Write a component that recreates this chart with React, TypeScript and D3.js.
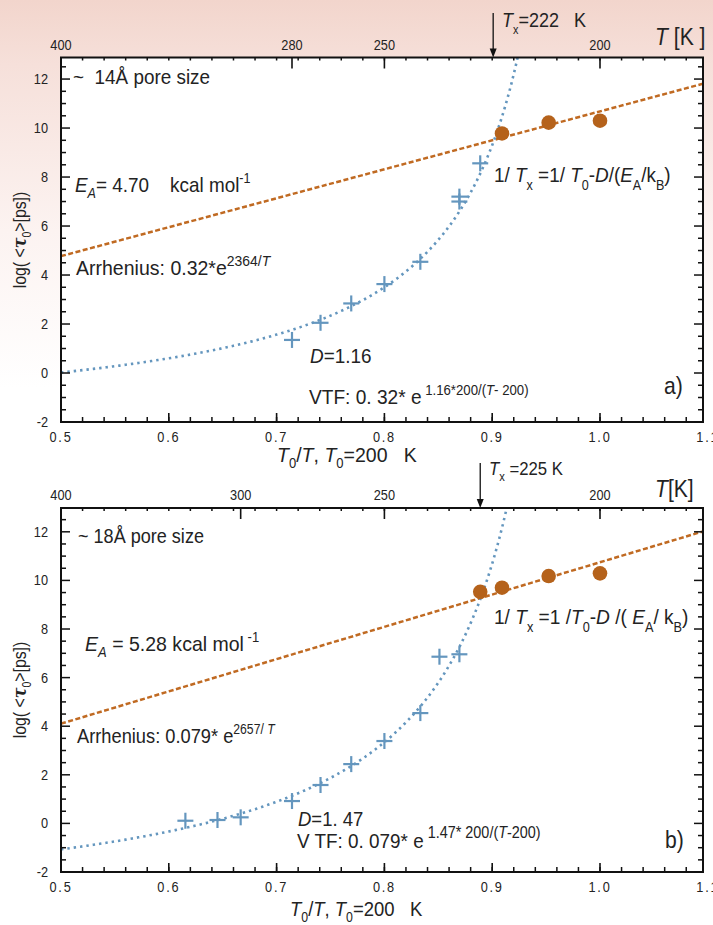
import React from 'react';
import * as d3 from 'd3';

const W = 713;
const H = 925;
const FONT = '"Liberation Sans", Arial, sans-serif';
const TEXT = '#232323';
const BLUE = '#6496be';
const ORANGE = '#c06a22';
const ORANGE_DOT = '#b5621b';

const T0 = 200;
const xTickValues = [0.5, 0.6, 0.7, 0.8, 0.9, 1.0, 1.1];
const xTickLabels = ['0.5', '0.6', '0.7', '0.8', '0.9', '1.0', '1.1'];
const yTickValues = [-2, 0, 2, 4, 6, 8, 10, 12];

// 14 Å pores
const topTempsA = [400, 280, 250, 200];
const vtfTempsA = [280, 270, 260, 250, 240, 230, 230, 225];
const vtfLogTauA = [1.35, 2.05, 2.84, 3.63, 4.54, 7.2, 7.0, 8.56];
const arrTempsA = [220, 210, 200];
const arrLogTauA = [9.78, 10.22, 10.3];
const fitA = { tau0: 0.32, ea: 2364, D: 1.16 };
const txA = 222;

// 18 Å pores
const topTempsB = [400, 300, 250, 200];
const vtfTempsB = [325, 310, 300, 280, 270, 260, 250, 240, 235, 230];
const vtfLogTauB = [0.11, 0.14, 0.25, 0.92, 1.58, 2.44, 3.39, 4.54, 6.86, 6.96];
const arrTempsB = [225, 220, 210, 200];
const arrLogTauB = [9.53, 9.7, 10.18, 10.29];
const fitB = { tau0: 0.079, ea: 2657, D: 1.47 };
const txB = 225;

const X_LEFT = 61;
const X_FRAME_RIGHT = 703;

type TProps = {
  x: number;
  y: number;
  size: number;
  sx?: number;
  anchor?: 'start' | 'middle' | 'end';
  rotate?: number;
  spacing?: number;
  children?: React.ReactNode;
};

// Condensed text: regular face squeezed horizontally, spaces kept as typed
function CText({ x, y, size, sx = 0.88, anchor = 'start', rotate = 0, spacing, children }: TProps) {
  return (
    <text
      transform={`translate(${x},${y}) rotate(${rotate}) scale(${sx},1)`}
      fontSize={size}
      textAnchor={anchor}
      letterSpacing={spacing}
      fill={TEXT}
      style={{ whiteSpace: 'pre' }}
    >
      {children}
    </text>
  );
}

type PanelProps = {
  id: string;
  top: number;
  bottom: number;
  yTop: number;
  topTemps: number[];
  vtfT: number[];
  vtfY: number[];
  arrT: number[];
  arrY: number[];
  fit: { tau0: number; ea: number; D: number };
  tx: number;
  txArrowTop: number;
  children?: React.ReactNode;
};

function Panel({ id, top, bottom, yTop, topTemps, vtfT, vtfY, arrT, arrY, fit, tx, txArrowTop, children }: PanelProps) {
  const x = d3.scaleLinear().domain([0.5, 1.1]).range([X_LEFT, 707.8]);
  const y = d3.scaleLinear().domain([-2, yTop]).range([bottom, top]);
  const xMax = x.invert(X_FRAME_RIGHT);

  const arrhenius = (u: number) => Math.log(fit.tau0) + (fit.ea / T0) * u;
  const vtf = (u: number) => Math.log(fit.tau0) + (fit.D * u) / (1 - u);

  const arrLine = d3.line<number>().x((u) => x(u)).y((u) => y(arrhenius(u)));
  const vtfLine = d3.line<number>().x((u) => x(u)).y((u) => y(vtf(u)));
  const vtfU = d3.range(0.5, 0.975, 0.002);

  const minorX = d3.range(0.5, xMax, 0.02);
  const minorY = d3.range(-2, yTop, 0.5);
  const clipId = `clip-${id}`;
  const txX = x(T0 / tx);

  return (
    <g>
      <defs>
        <clipPath id={clipId}>
          <rect x={X_LEFT} y={top} width={X_FRAME_RIGHT - X_LEFT} height={bottom - top} />
        </clipPath>
      </defs>
      <rect x={X_LEFT} y={top} width={X_FRAME_RIGHT - X_LEFT} height={bottom - top} fill="#fff" />

      {/* fitted Arrhenius and VTF curves */}
      <g clipPath={`url(#${clipId})`}>
        <path d={arrLine([0.5, xMax]) || ''} fill="none" stroke={ORANGE} strokeWidth={2.5} strokeDasharray="5 2.5" />
        <path d={vtfLine(vtfU) || ''} fill="none" stroke={BLUE} strokeWidth={2.6} strokeDasharray="2.4 4" />
      </g>

      {/* measured relaxation times */}
      {arrT.map((t, i) => (
        <circle key={`c${i}`} cx={x(T0 / t)} cy={y(arrY[i])} r={7.3} fill={ORANGE_DOT} />
      ))}
      {vtfT.map((t, i) => {
        const cx = x(T0 / t);
        const cy = y(vtfY[i]);
        return (
          <g key={`p${i}`} stroke={BLUE} strokeWidth={2.2}>
            <line x1={cx - 8} x2={cx + 8} y1={cy} y2={cy} />
            <line x1={cx} x2={cx} y1={cy - 8} y2={cy + 8} />
          </g>
        );
      })}

      {/* frame */}
      <rect x={X_LEFT} y={top} width={X_FRAME_RIGHT - X_LEFT} height={bottom - top} fill="none" stroke="#111" strokeWidth={2} />

      {/* bottom axis: T0/T */}
      {minorX.map((u, i) => (
        <line key={`bx${i}`} x1={x(u)} x2={x(u)} y1={bottom} y2={bottom - 5} stroke="#111" strokeWidth={1.5} />
      ))}
      {xTickValues.filter((u) => u <= xMax).map((u, i) => (
        <line key={`bM${i}`} x1={x(u)} x2={x(u)} y1={bottom} y2={bottom - 9} stroke="#111" strokeWidth={1.6} />
      ))}
      {xTickValues.map((u, i) => (
        <CText key={`bl${i}`} x={x(u)} y={bottom + 20} size={14.5} anchor="middle" spacing={2}>
          {xTickLabels[i]}
        </CText>
      ))}

      {/* top axis: temperature */}
      {minorX.map((u, i) => (
        <line key={`tx${i}`} x1={x(u)} x2={x(u)} y1={top} y2={top + 3} stroke="#111" strokeWidth={1.5} />
      ))}
      {topTemps.map((t, i) => (
        <g key={`tt${i}`}>
          <line x1={x(T0 / t)} x2={x(T0 / t)} y1={top} y2={top + 11} stroke="#111" strokeWidth={1.6} />
          <CText x={x(T0 / t)} y={top - 8} size={14.5} anchor="middle">
            {t}
          </CText>
        </g>
      ))}

      {/* left / right axes */}
      {minorY.map((v, i) => {
        const major = Math.abs(v % 2) < 1e-9;
        const len = major ? 9 : 5;
        return (
          <g key={`y${i}`} stroke="#111" strokeWidth={1.5}>
            <line x1={X_LEFT} x2={X_LEFT + len} y1={y(v)} y2={y(v)} />
            <line x1={X_FRAME_RIGHT} x2={X_FRAME_RIGHT - len} y1={y(v)} y2={y(v)} />
          </g>
        );
      })}
      {yTickValues.map((v, i) => (
        <CText key={`yl${i}`} x={48} y={y(v) + 5} size={14.5} anchor="end">
          {v}
        </CText>
      ))}

      {/* crossover temperature marker */}
      <line x1={txX} x2={txX} y1={txArrowTop} y2={top - 7} stroke="#111" strokeWidth={1.3} />
      <path d={`M${txX - 3.5},${top - 9} L${txX + 3.5},${top - 9} L${txX},${top} Z`} fill="#111" />

      {children}
    </g>
  );
}

function YTitle({ cy }: { cy: number }) {
  return (
    <CText x={26} y={cy} size={18} anchor="middle" rotate={-90}>
      log( &lt;
      <tspan fontWeight="bold" fontStyle="italic" fontFamily="DejaVu Serif, serif">τ</tspan>
      <tspan dy={5} fontSize={12}>0</tspan>
      <tspan dy={-5}>&gt;[ps])</tspan>
    </CText>
  );
}

function XTitle({ x, y, sx }: { x: number; y: number; sx: number }) {
  return (
    <CText x={x} y={y} size={21} sx={sx}>
      <tspan fontStyle="italic">T</tspan>
      <tspan dy={6} fontSize={14}>0</tspan>
      <tspan dy={-6}>/</tspan>
      <tspan fontStyle="italic">T</tspan>
      <tspan>, </tspan>
      <tspan fontStyle="italic">T</tspan>
      <tspan dy={6} fontSize={14}>0</tspan>
      <tspan dy={-6}>=200   K</tspan>
    </CText>
  );
}

export default function App() {
  return (
    <svg width={W} height={H} style={{ position: 'absolute', left: 0, top: 0, fontFamily: FONT }}>
      <defs>
        <linearGradient id="bg" x1="0" y1="0" x2="0" y2="1">
          <stop offset="0" stopColor="#f2d5cc" />
          <stop offset="0.07" stopColor="#f6e0da" />
          <stop offset="0.25" stopColor="#fcf3f1" />
          <stop offset="0.42" stopColor="#ffffff" />
        </linearGradient>
      </defs>
      <rect width={W} height={H} fill="url(#bg)" />

      <Panel
        id="a"
        top={57.5}
        bottom={422}
        yTop={12.88}
        topTemps={topTempsA}
        vtfT={vtfTempsA}
        vtfY={vtfLogTauA}
        arrT={arrTempsA}
        arrY={arrLogTauA}
        fit={fitA}
        tx={txA}
        txArrowTop={13}
      >
        <CText x={73} y={84} size={21} sx={0.9}>~  14Å pore size</CText>
        <CText x={75} y={191.5} size={21} sx={0.9}>
          <tspan fontStyle="italic">E</tspan>
          <tspan dy={6} fontSize={14} fontStyle="italic">A</tspan>
          <tspan dy={-6}>= 4.70    kcal mol</tspan>
          <tspan dy={-9} fontSize={14}>-1</tspan>
        </CText>
        <CText x={76} y={275} size={21} sx={0.93}>
          Arrhenius: 0.32*e
          <tspan dy={-9} fontSize={15}>2364/</tspan>
          <tspan fontSize={15} fontStyle="italic">T</tspan>
        </CText>
        <CText x={494} y={181.5} size={21} sx={0.9}>
          1/ <tspan fontStyle="italic">T</tspan>
          <tspan dy={8} fontSize={14}>x</tspan>
          <tspan dy={-8}> =1/ </tspan>
          <tspan fontStyle="italic">T</tspan>
          <tspan dy={8} fontSize={14}>0</tspan>
          <tspan dy={-8}>-</tspan>
          <tspan fontStyle="italic">D</tspan>
          <tspan>/(</tspan>
          <tspan fontStyle="italic">E</tspan>
          <tspan dy={8} fontSize={14}>A</tspan>
          <tspan dy={-8}>/k</tspan>
          <tspan dy={8} fontSize={14}>B</tspan>
          <tspan dy={-8}>)</tspan>
        </CText>
        <CText x={310} y={363} size={21} sx={0.9}>
          <tspan fontStyle="italic">D</tspan>=1.16
        </CText>
        <CText x={309} y={404} size={21} sx={0.91}>
          VTF: 0. 32* e
          <tspan dy={-9} fontSize={14.5}> 1.16*200/(</tspan>
          <tspan fontSize={14.5} fontStyle="italic">T</tspan>
          <tspan fontSize={14.5}>- 200)</tspan>
        </CText>
        <CText x={664} y={394} size={24}>a)</CText>
        <CText x={502} y={27} size={20} sx={0.9}>
          <tspan fontStyle="italic">T</tspan>
          <tspan dy={7} fontSize={12}>x</tspan>
          <tspan dy={-7}>=222   K</tspan>
        </CText>
        <CText x={655} y={45} size={24}>
          <tspan fontStyle="italic">T</tspan> [K ]
        </CText>
      </Panel>

      <Panel
        id="b"
        top={508}
        bottom={872}
        yTop={12.98}
        topTemps={topTempsB}
        vtfT={vtfTempsB}
        vtfY={vtfLogTauB}
        arrT={arrTempsB}
        arrY={arrLogTauB}
        fit={fitB}
        tx={txB}
        txArrowTop={463}
      >
        <CText x={78} y={543} size={21} sx={0.86}>~ 18Å pore size</CText>
        <CText x={85} y={651} size={21} sx={0.93}>
          <tspan fontStyle="italic">E</tspan>
          <tspan dy={6} fontSize={14} fontStyle="italic">A</tspan>
          <tspan dy={-6}> = 5.28 kcal mol</tspan>
          <tspan dy={-9} fontSize={14}> -1</tspan>
        </CText>
        <CText x={77} y={743} size={21} sx={0.87}>
          Arrhenius: 0.079* e
          <tspan dy={-9} fontSize={14}>2657/ </tspan>
          <tspan fontSize={14} fontStyle="italic">T</tspan>
        </CText>
        <CText x={494} y={624} size={21} sx={0.91}>
          1/ <tspan fontStyle="italic">T</tspan>
          <tspan dy={8} fontSize={14}>x</tspan>
          <tspan dy={-8}> =1 /</tspan>
          <tspan fontStyle="italic">T</tspan>
          <tspan dy={8} fontSize={14}>0</tspan>
          <tspan dy={-8}>-</tspan>
          <tspan fontStyle="italic">D</tspan>
          <tspan> /( </tspan>
          <tspan fontStyle="italic">E</tspan>
          <tspan dy={8} fontSize={14}>A</tspan>
          <tspan dy={-8}>/ k</tspan>
          <tspan dy={8} fontSize={14}>B</tspan>
          <tspan dy={-8}>)</tspan>
        </CText>
        <CText x={298} y={825.5} size={21}>
          <tspan fontStyle="italic">D</tspan>=1. 47
        </CText>
        <CText x={297} y={848} size={21} sx={0.9}>
          V TF: 0. 079* e
          <tspan dy={-10} fontSize={16}> 1.47* 200/(</tspan>
          <tspan fontSize={16} fontStyle="italic">T</tspan>
          <tspan fontSize={16}>-200)</tspan>
        </CText>
        <CText x={665} y={848} size={24}>b)</CText>
        <CText x={489} y={475} size={18} sx={0.93}>
          <tspan fontStyle="italic">T</tspan>
          <tspan dy={6} fontSize={12}>x</tspan>
          <tspan dy={-6}> =225 K</tspan>
        </CText>
        <CText x={655} y={497} size={24}>
          <tspan fontStyle="italic">T</tspan>[K]
        </CText>
      </Panel>

      <YTitle cy={240} />
      <YTitle cy={690} />
      <XTitle x={277} y={462} sx={0.93} />
      <XTitle x={290} y={916} sx={0.88} />
    </svg>
  );
}
